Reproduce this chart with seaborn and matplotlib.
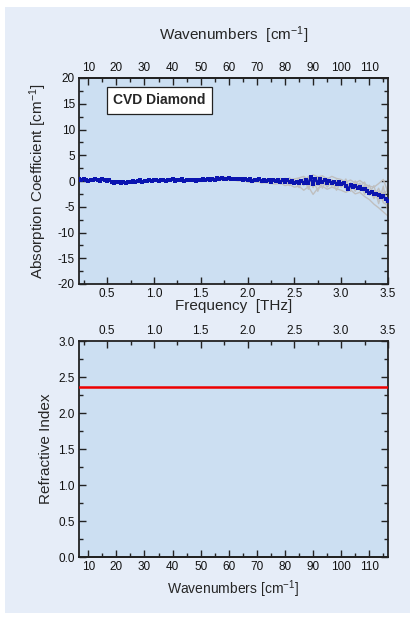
import numpy as np
import pandas as pd
import matplotlib
matplotlib.use("Agg")
import matplotlib.pyplot as plt
from matplotlib.ticker import MultipleLocator
from matplotlib.patches import Rectangle
import seaborn as sns

sns.set_style("ticks")
plt.rcParams["font.family"] = ["Liberation Sans", "DejaVu Sans"]
plt.rcParams["mathtext.fontset"] = "custom"
plt.rcParams["mathtext.rm"] = "Liberation Sans"
plt.rcParams["mathtext.it"] = "Liberation Sans"

# ---------------- data ----------------
CM_PER_THZ = 33.356

freq_abs = [0.200, 0.225, 0.250, 0.275, 0.300, 0.325, 0.350, 0.375, 0.400, 0.425,
            0.450, 0.475, 0.500, 0.525, 0.550, 0.575, 0.600, 0.625, 0.650, 0.675,
            0.700, 0.725, 0.750, 0.775, 0.800, 0.825, 0.850, 0.875, 0.900, 0.925,
            0.950, 0.975, 1.000, 1.025, 1.050, 1.075, 1.100, 1.125, 1.150, 1.175,
            1.200, 1.225, 1.250, 1.275, 1.300, 1.325, 1.350, 1.375, 1.400, 1.425,
            1.450, 1.475, 1.500, 1.525, 1.550, 1.575, 1.600, 1.625, 1.650, 1.675,
            1.700, 1.725, 1.750, 1.775, 1.800, 1.825, 1.850, 1.875, 1.900, 1.925,
            1.950, 1.975, 2.000, 2.025, 2.050, 2.075, 2.100, 2.125, 2.150, 2.175,
            2.200, 2.225, 2.250, 2.275, 2.300, 2.325, 2.350, 2.375, 2.400, 2.425,
            2.450, 2.475, 2.500, 2.525, 2.550, 2.575, 2.600, 2.625, 2.650, 2.675,
            2.700, 2.725, 2.750, 2.775, 2.800, 2.825, 2.850, 2.875, 2.900, 2.925,
            2.950, 2.975, 3.000, 3.025, 3.050, 3.075, 3.100, 3.125, 3.150, 3.175,
            3.200, 3.225, 3.250, 3.275, 3.300, 3.325, 3.350, 3.375, 3.400, 3.425,
            3.450, 3.475, 3.500]

absorption_mean = [0.3, 0.1, 0.4, 0.2, 0.0, 0.2, 0.1, 0.3, 0.2, 0.0,
                   0.3, 0.2, 0.0, 0.1, -0.1, -0.4, -0.2, -0.1, -0.3, -0.2,
                   -0.3, -0.1, -0.2, 0.0, -0.1, 0.0, 0.1, -0.1, 0.0, 0.0,
                   0.1, 0.0, 0.1, 0.2, 0.0, 0.1, 0.2, 0.0, 0.2, 0.1,
                   0.3, 0.0, 0.2, 0.1, 0.3, 0.0, 0.2, 0.1, 0.1, 0.2,
                   0.0, 0.2, 0.1, 0.3, 0.1, 0.3, 0.2, 0.4, 0.2, 0.5,
                   0.3, 0.5, 0.4, 0.3, 0.5, 0.3, 0.4, 0.4, 0.3, 0.4,
                   0.2, 0.3, 0.1, 0.3, 0.0, 0.2, 0.1, 0.3, 0.0, 0.2,
                   0.0, 0.2, -0.1, 0.1, 0.0, 0.2, -0.1, 0.1, -0.1, 0.1,
                   -0.2, 0.0, -0.3, -0.1, -0.4, 0.0, -0.3, 0.1, -0.4, 0.7,
                   -0.6, 0.4, -0.3, 0.3, -0.2, 0.2, -0.4, 0.0, -0.3, -0.1,
                   -0.5, -0.2, -0.6, -0.4, -0.9, -1.6, -0.8, -1.2, -0.9, -1.3,
                   -1.1, -1.6, -1.5, -2.0, -2.3, -2.1, -2.6, -2.5, -2.8, -3.1,
                   -3.0, -3.5, -3.8]

freq_runs = [1.50, 1.55, 1.60, 1.65, 1.70, 1.75, 1.80, 1.85, 1.90, 1.95,
             2.00, 2.05, 2.10, 2.15, 2.20, 2.25, 2.30, 2.35, 2.40, 2.45,
             2.50, 2.55, 2.60, 2.65, 2.70, 2.75, 2.80, 2.85, 2.90, 2.95,
             3.00, 3.05, 3.10, 3.15, 3.20, 3.25, 3.30, 3.35, 3.40, 3.45, 3.50]

run_a = [0.3, 0.2, 0.5, 0.6, 0.8, 0.6, 0.7, 0.5, 0.6, 0.4,
         0.3, 0.2, 0.4, 0.1, 0.3, 0.2, 0.4, 0.1, 0.5, 0.3,
         0.4, 0.6, 0.9, 0.3, 1.2, 0.8, 1.0, 0.4, 0.9, 0.5,
         0.3, -0.2, 0.2, -0.4, 0.1, -0.6, -1.0, -1.2, -0.5, 0.3, -2.2]
run_b = [-0.1, 0.0, 0.0, 0.2, 0.1, 0.3, 0.1, 0.2, 0.0, 0.1,
         -0.2, -0.3, -0.1, -0.4, -0.3, -0.5, -0.6, -0.4, -0.9, -0.7,
         -1.2, -1.0, -1.8, -1.1, -2.6, -1.4, -1.0, -1.6, -1.2, -1.5,
         -1.8, -2.2, -1.7, -2.5, -2.2, -3.0, -3.6, -4.5, -5.2, -6.0, -6.8]
run_c = [0.2, 0.3, 0.1, 0.4, 0.5, 0.7, 0.3, 0.5, 0.4, 0.2,
         0.2, 0.1, -0.1, 0.2, -0.2, 0.1, -0.3, 0.3, -0.4, 0.2,
         -0.6, -0.2, -0.5, 0.4, -0.4, 0.2, 0.5, -0.8, 0.3, -0.9,
         -0.2, -1.4, -0.3, -1.6, -0.6, -2.2, -1.6, -3.4, -2.0, -4.2, -4.8]
run_d = [0.0, 0.2, 0.3, 0.2, 0.6, 0.2, 0.5, 0.3, 0.2, 0.4,
         0.0, 0.2, 0.2, -0.2, 0.1, -0.3, 0.2, -0.5, 0.1, -0.5,
         0.1, -0.8, 0.2, -1.0, 0.1, -0.9, -0.5, 0.3, -1.0, 0.1,
         -1.2, 0.0, -1.4, -0.2, -1.9, -0.8, -2.8, -1.8, -3.6, -2.2, -5.6]
run_e = [0.1, 0.0, 0.3, 0.4, 0.3, 0.5, 0.6, 0.2, 0.5, 0.1,
         0.3, -0.2, 0.0, 0.3, -0.1, 0.0, 0.1, -0.2, -0.3, 0.2,
         -0.2, -0.6, 0.0, -0.7, -0.9, 0.1, -0.6, -0.1, -0.5, -1.1,
         -0.4, -0.6, -1.2, -0.8, -1.5, -1.2, -2.0, -2.4, -3.4, -2.8, -1.5]
run_f = [0.2, 0.4, 0.2, 0.5, 0.3, 0.8, 0.4, 0.6, 0.2, 0.5,
         -0.1, 0.4, -0.2, 0.3, -0.4, 0.4, -0.2, 0.5, -0.2, 0.6,
         -0.5, 0.5, -0.9, 0.9, -1.3, 0.7, -1.4, 0.6, -0.8, 0.2,
         -1.0, 0.4, -2.0, 0.0, -1.0, -0.2, -2.4, -0.9, -4.4, -1.0, -6.2]
run_g = [0.0, 0.1, 0.4, 0.1, 0.4, 0.4, 0.2, 0.6, 0.3, 0.2,
         0.4, -0.1, 0.3, -0.3, 0.4, -0.4, 0.3, -0.6, 0.2, -0.9,
         0.3, -1.3, 0.6, -1.6, 0.4, -2.0, 0.2, -1.2, -0.2, -1.8,
         -0.1, -1.6, -0.6, -2.0, -0.4, -2.6, -0.8, -3.0, -1.4, -3.8, -3.0]

freq_n = [0.20, 0.45, 0.70, 0.95, 1.20, 1.45, 1.70, 1.95, 2.20, 2.45,
          2.70, 2.95, 3.20, 3.50]
refr_index = [2.36, 2.36, 2.36, 2.36, 2.36, 2.36, 2.36, 2.36, 2.36, 2.36,
              2.36, 2.36, 2.36, 2.36]

# ---------------- figure ----------------
W, H = 416, 620
fig = plt.figure(figsize=(W / 100, H / 100), dpi=100)
fig.patch.set_facecolor("white")
fig.add_artist(Rectangle((5 / W, 7 / H), 405 / W, 606 / H, transform=fig.transFigure,
                         facecolor="#E6EDF8", edgecolor="none", zorder=0))

plot_bg = "#CCDFF2"
spine_c = "#222222"
tick_fs = 8.5
label_fs = 11

ax1 = fig.add_axes([79 / W, (H - 284) / H, 309 / W, 206 / H])
ax2 = fig.add_axes([79 / W, (H - 557) / H, 309 / W, 216 / H])


def style(ax):
    ax.set_facecolor(plot_bg)
    for s in ax.spines.values():
        s.set_color(spine_c)
        s.set_linewidth(1.3)
    ax.tick_params(which="both", direction="in", top=False, right=True,
                   color=spine_c, labelsize=tick_fs, labelcolor="#111111", pad=3)
    ax.tick_params(which="major", length=5, width=1.0)
    ax.tick_params(which="minor", length=3, width=1.0)


def to_wn(f):
    return np.asarray(f) * CM_PER_THZ


def to_thz(w):
    return np.asarray(w) / CM_PER_THZ


# ---- top: absorption ----
style(ax1)
for run in [run_a, run_b, run_c, run_d, run_e, run_f, run_g]:
    sns.lineplot(x=freq_runs, y=run, ax=ax1, color="#BFBFBF", lw=1.0, zorder=2)
df_abs = pd.DataFrame({"f": freq_abs, "a": absorption_mean})
sns.lineplot(data=df_abs, x="f", y="a", ax=ax1, color="#0A14B0", lw=1.8,
             marker="s", markersize=3.4, markeredgewidth=0, zorder=3)
ax1.set_xlim(0.2, 3.5)
ax1.set_ylim(-20, 20)
ax1.xaxis.set_minor_locator(MultipleLocator(0.25))
ax1.yaxis.set_minor_locator(MultipleLocator(2.5))
ax1.set_xticks([0.5, 1.0, 1.5, 2.0, 2.5, 3.0, 3.5])
ax1.set_xticklabels(["0.5", "1.0", "1.5", "2.0", "2.5", "3.0", "3.5"])
ax1.set_yticks([-20, -15, -10, -5, 0, 5, 10, 15, 20])
ax1.set_yticklabels(["-20", "-15", "-10", "-5", "0", "5", "10", "15", "20"])
ax1.set_xlabel("Frequency  [THz]", fontsize=label_fs, labelpad=-1)
ax1.set_ylabel("Absorption Coefficient [cm$^{-1}$]", fontsize=label_fs, labelpad=6)
ax1.text(0.2605, 0.891, "CVD Diamond", transform=ax1.transAxes, ha="center",
         va="center", fontsize=10, fontweight="bold",
         bbox=dict(boxstyle="square,pad=0.45", facecolor="white",
                   edgecolor="#222222", linewidth=0.9), zorder=5)

sec1 = ax1.secondary_xaxis("top", functions=(to_wn, to_thz))
sec1.set_xticks([10, 20, 30, 40, 50, 60, 70, 80, 90, 100, 110])
sec1.xaxis.set_minor_locator(MultipleLocator(5))
sec1.tick_params(which="both", direction="in", color=spine_c, labelsize=tick_fs,
                 labelcolor="#111111", pad=3)
sec1.tick_params(which="major", length=5, width=1.0)
sec1.tick_params(which="minor", length=3, width=1.0)
sec1.spines["top"].set_color(spine_c)
sec1.spines["top"].set_linewidth(1.3)
sec1.set_xlabel("Wavenumbers  [cm$^{-1}$]", fontsize=label_fs, labelpad=16)

# ---- bottom: refractive index ----
style(ax2)
df_n = pd.DataFrame({"f": freq_n, "n": refr_index})
sns.lineplot(data=df_n, x="f", y="n", ax=ax2, color="#EE0000", lw=1.8, zorder=3)
ax2.set_xlim(0.2, 3.5)
ax2.set_ylim(0, 3)
ax2.yaxis.set_minor_locator(MultipleLocator(0.25))
ax2.set_yticks([0.0, 0.5, 1.0, 1.5, 2.0, 2.5, 3.0])
ax2.set_yticklabels(["0.0", "0.5", "1.0", "1.5", "2.0", "2.5", "3.0"])
ax2.set_ylabel("Refractive Index", fontsize=label_fs, labelpad=4)
ax2.set_xlabel("")
# frequency on top, wavenumbers on bottom
ax2.xaxis.set_ticks_position("top")
ax2.xaxis.set_label_position("top")
ax2.set_xticks([0.5, 1.0, 1.5, 2.0, 2.5, 3.0, 3.5])
ax2.set_xticklabels(["0.5", "1.0", "1.5", "2.0", "2.5", "3.0", "3.5"])
ax2.xaxis.set_minor_locator(MultipleLocator(0.25))
ax2.tick_params(axis="x", which="both", top=True, bottom=False,
                labeltop=True, labelbottom=False)

sec2 = ax2.secondary_xaxis("bottom", functions=(to_wn, to_thz))
sec2.set_xticks([10, 20, 30, 40, 50, 60, 70, 80, 90, 100, 110])
sec2.xaxis.set_minor_locator(MultipleLocator(5))
sec2.tick_params(which="both", direction="in", color=spine_c, labelsize=tick_fs,
                 labelcolor="#111111", pad=3)
sec2.tick_params(which="major", length=5, width=1.0)
sec2.tick_params(which="minor", length=3, width=1.0)
sec2.spines["bottom"].set_color(spine_c)
sec2.spines["bottom"].set_linewidth(1.3)
sec2.set_xlabel("Wavenumbers [cm$^{-1}$]", fontsize=10, labelpad=4)

fig.savefig("out.png", dpi=100)
